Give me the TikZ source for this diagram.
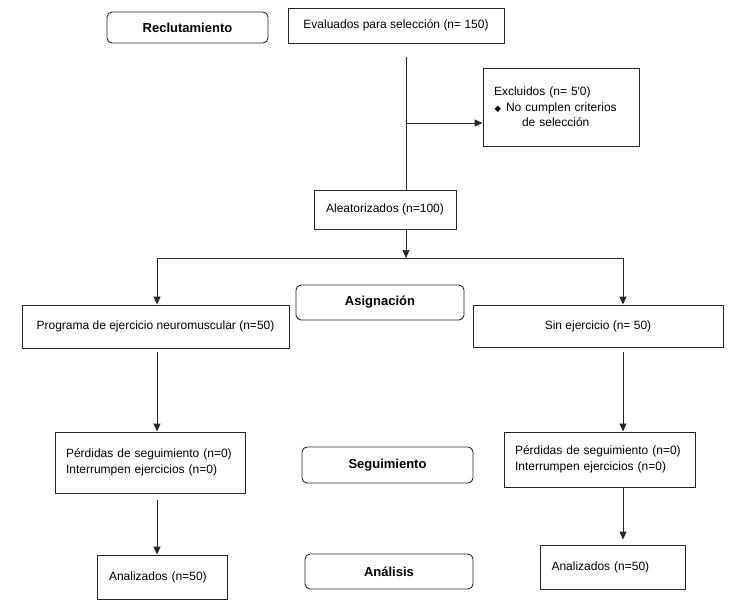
\documentclass[tikz,border=0pt]{standalone}
\usepackage{fontspec}
\newfontfamily\arialfont{Liberation Sans}
\newfontfamily\symfont{DejaVu Sans}
\usetikzlibrary{arrows.meta}

\tikzset{
  box/.style={draw=black!85, line width=0.9pt, inner sep=0pt,
    font=\arialfont\fontsize{12}{15.5}\selectfont},
  stage/.style={box, rounded corners=5pt, font=\arialfont\bfseries\fontsize{13}{15}\selectfont},
  listbox/.style={box, align=left, inner xsep=11pt},
  arr/.style={draw=black!85, line width=0.9pt, -{Triangle[length=8pt,width=7pt]}},
  link/.style={draw=black!85, line width=0.9pt}
}

\begin{document}
\begin{tikzpicture}[x=1pt, y=-1pt]

\useasboundingbox (0,0) rectangle (741,605);

% Stage labels (left/centre column)
\node[stage, minimum width=161pt, minimum height=31pt] (recl) at (187.5,27.5) {Reclutamiento};
\node[stage, minimum width=168pt, minimum height=35pt] (asig) at (380,302.5) {Asignación};
\node[stage, minimum width=171pt, minimum height=36pt] (segu) at (387.5,465) {Seguimiento};
\node[stage, minimum width=168pt, minimum height=35pt] (analis) at (389,571.5) {Análisis};

% Flow boxes
\node[box, minimum width=216pt, minimum height=35pt] (eval) at (396,25.5) {Evaluados para selección (n= 150)};
\node[listbox, text width=134pt, minimum height=78pt] (excl) at (561,107)
  {Excluidos (n= 5'0)\\
   \hspace*{0.5pt}{\symfont\fontsize{8.5}{8.5}\selectfont ◆}\hspace{5pt}No cumplen criterios\\
   \hspace*{28pt}de selección};
\node[box, minimum width=142pt, minimum height=39pt] (alea) at (385,209.5) {Aleatorizados (n=100)};
\node[box, minimum width=267pt, minimum height=43pt] (prog) at (155.5,326.5) {Programa de ejercicio neuromuscular (n=50)};
\node[box, minimum width=250pt, minimum height=42pt] (sinej) at (598,326) {Sin ejercicio (n= 50)};
\node[listbox, text width=168pt, minimum height=61pt] (perdl) at (150,462.5)
  {Pérdidas de seguimiento (n=0)\\Interrumpen ejercicios (n=0)};
\node[listbox, text width=169pt, minimum height=55pt] (perdr) at (599.5,459.5)
  {Pérdidas de seguimiento (n=0)\\Interrumpen ejercicios (n=0)};
\node[listbox, text width=106pt, minimum height=44pt, inner xsep=12pt] (anall) at (162,577) {Analizados (n=50)};
\node[listbox, text width=123pt, minimum height=44pt] (analr) at (613,567) {Analizados (n=50)};

% Branch points
\coordinate (mx) at (406,258);
\coordinate (lx) at (157,258);
\coordinate (rx) at (623,258);
\coordinate (exsplit) at (406,123);

% Connectors
\draw[link, shorten <=14pt] (mx |- eval.south) -- (mx |- alea.north);
\draw[arr] (exsplit) -- (exsplit -| excl.west);
\draw[arr] (mx |- alea.south) -- (mx);
\draw[link] (lx) -- (rx);
\draw[arr] (lx) -- (lx |- prog.north);
\draw[arr] (rx) -- (rx |- sinej.north);
\draw[arr, shorten <=4pt] (lx |- prog.south) -- (lx |- perdl.north);
\draw[arr, shorten <=5pt] (rx |- sinej.south) -- (rx |- perdr.north);
\draw[arr, shorten <=7pt] (lx |- perdl.south) -- (lx |- anall.north);
\draw[arr, shorten >=5pt] (rx |- perdr.south) -- (rx |- analr.north);

\end{tikzpicture}
\end{document}
